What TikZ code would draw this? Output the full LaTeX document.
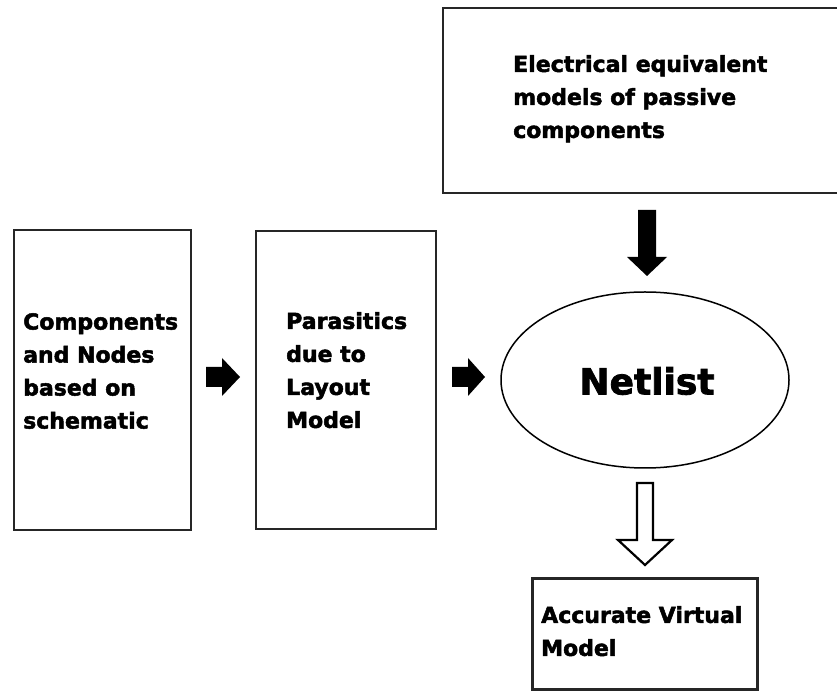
\documentclass[tikz,border=0pt]{standalone}
\usepackage{fontspec}
\setmainfont{DejaVu Sans}[BoldFeatures={FakeBold=2.2}]
\usetikzlibrary{shapes.geometric}
\begin{document}
\begin{tikzpicture}[x=1pt,y=1pt,
  boxstyle/.style={draw=black!85, line width=2.3pt, rectangle, inner sep=0pt},
  lbl/.style={anchor=north west, inner sep=0pt, align=left, font=\bfseries\fontsize{22}{33}\selectfont},
  blockarrow/.style={fill=black, draw=none},
  hollowarrow/.style={fill=white, draw=black, line width=2.2pt, line join=miter}]
\useasboundingbox (0,0) rectangle (837,693);
% boxes
\node[boxstyle, minimum width=177pt, minimum height=300pt] (comp) at (102.5,313) {};
\node[boxstyle, minimum width=180pt, minimum height=298pt] (para) at (346,313) {};
\node[boxstyle, minimum width=407pt, minimum height=185pt] (elec) at (646.5,592.5) {};
\node[boxstyle, line width=3pt, minimum width=225pt, minimum height=110pt] (acc) at (644.5,59) {};
\node[draw=black, line width=1.5pt, ellipse, minimum width=288pt, minimum height=176pt, inner sep=0pt] (net) at (645,313) {};
% texts
\node[lbl] (tcomp) at (23,380) {Components\\and Nodes\\based on\\schematic};
\node[lbl] (tpara) at (286,381) {Parasitics\\due to\\Layout\\Model};
\node[lbl] (telec) at (513,638) {Electrical equivalent\\models of passive\\components};
\node[lbl] (tacc) at (541,87) {Accurate Virtual\\Model};
\node[font=\bfseries\fontsize{36}{40}\selectfont, inner sep=0pt] (tnet) at (647,312) {Netlist};
% block arrows
\fill[blockarrow] (206,306) -- (222,306) -- (222,297) -- (240,316) -- (222,335) -- (222,326) -- (206,326) -- cycle;
\fill[blockarrow] (452,306) -- (468,306) -- (468,297) -- (485,316) -- (468,335) -- (468,326) -- (452,326) -- cycle;
\fill[blockarrow] (638,483) -- (656,483) -- (656,436) -- (667,436) -- (647,417) -- (627,436) -- (638,436) -- cycle;
\draw[hollowarrow] (637,210) -- (653,210) -- (653,153) -- (672,153) -- (645,128) -- (618,153) -- (637,153) -- cycle;
\end{tikzpicture}
\end{document}
